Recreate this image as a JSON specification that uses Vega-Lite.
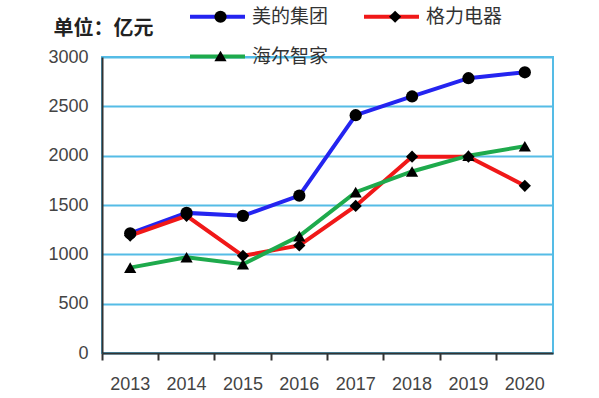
{
  "$schema": "https://vega.github.io/schema/vega-lite/v6.json",
  "autosize": {"type": "none"},
  "padding": {"left": 102, "top": 57, "right": 46, "bottom": 45},
  "width": 451,
  "height": 296,
  "background": "white",
  "config": {
    "view": {"stroke": "#55BCE6", "strokeWidth": 2},
    "font": "Liberation Sans"
  },
  "data": {
    "values": [
      {"year": "2013", "company": "美的集团", "value": 1213},
      {"year": "2014", "company": "美的集团", "value": 1420},
      {"year": "2015", "company": "美的集团", "value": 1390},
      {"year": "2016", "company": "美的集团", "value": 1595},
      {"year": "2017", "company": "美的集团", "value": 2410},
      {"year": "2018", "company": "美的集团", "value": 2600},
      {"year": "2019", "company": "美的集团", "value": 2785},
      {"year": "2020", "company": "美的集团", "value": 2845},
      {"year": "2013", "company": "格力电器", "value": 1190},
      {"year": "2014", "company": "格力电器", "value": 1390},
      {"year": "2015", "company": "格力电器", "value": 985},
      {"year": "2016", "company": "格力电器", "value": 1090},
      {"year": "2017", "company": "格力电器", "value": 1490},
      {"year": "2018", "company": "格力电器", "value": 1990},
      {"year": "2019", "company": "格力电器", "value": 1990},
      {"year": "2020", "company": "格力电器", "value": 1695},
      {"year": "2013", "company": "海尔智家", "value": 865},
      {"year": "2014", "company": "海尔智家", "value": 970},
      {"year": "2015", "company": "海尔智家", "value": 900},
      {"year": "2016", "company": "海尔智家", "value": 1185},
      {"year": "2017", "company": "海尔智家", "value": 1630},
      {"year": "2018", "company": "海尔智家", "value": 1840},
      {"year": "2019", "company": "海尔智家", "value": 2000},
      {"year": "2020", "company": "海尔智家", "value": 2095}
    ]
  },
  "encoding": {
    "x": {
      "field": "year", "type": "ordinal",
      "scale": {"type": "band", "paddingInner": 0, "paddingOuter": 0},
      "axis": {
        "title": null, "labelAngle": 0, "bandPosition": 0,
        "domainColor": "#333333", "domainWidth": 2,
        "tickColor": "#333333", "tickWidth": 2, "tickSize": 7,
        "labelFontSize": 18, "labelColor": "#444444", "labelPadding": 15,
        "grid": false
      }
    },
    "y": {
      "field": "value", "type": "quantitative",
      "scale": {"domain": [0, 3000]},
      "axis": {
        "values": [0, 500, 1000, 1500, 2000, 2500, 3000],
        "format": "d",
        "title": "单位：亿元",
        "titleFont": "Noto Sans CJK SC", "titleFontSize": 20, "titleFontWeight": "bold",
        "titleColor": "#222222", "titleAngle": 0, "titleAlign": "left", "titleBaseline": "middle",
        "titleX": -49, "titleY": -29,
        "domainColor": "#333333", "domainWidth": 2,
        "ticks": false, "labelPadding": 14,
        "labelFontSize": 18, "labelColor": "#444444",
        "grid": true, "gridColor": "#55BCE6", "gridWidth": 2
      }
    }
  },
  "layer": [
    {
      "mark": {"type": "line", "strokeWidth": 4},
      "encoding": {
        "color": {
          "field": "company", "type": "nominal",
          "scale": {"domain": ["美的集团", "格力电器", "海尔智家"], "range": ["#2424F0", "#F01818", "#1EAA4C"]},
          "legend": {
            "title": null, "orient": "none", "legendX": 86, "legendY": -70,
            "direction": "horizontal", "columns": 2, "padding": 0,
            "symbolType": "stroke", "symbolSize": 3025, "symbolStrokeWidth": 4,
            "labelFont": "Noto Sans CJK SC", "labelFontSize": 19, "labelColor": "#333333",
            "labelOffset": 5, "columnPadding": 27, "rowPadding": -30.5
          }
        }
      }
    },
    {
      "mark": {"type": "point", "filled": true, "color": "black", "opacity": 1, "size": 150},
      "encoding": {
        "shape": {
          "field": "company", "type": "nominal",
          "sort": ["美的集团", "格力电器", "海尔智家"],
          "scale": {"range": ["circle", "diamond", "triangle-up"]},
          "legend": {
            "title": null, "orient": "none", "legendX": 109, "legendY": -50,
            "direction": "horizontal", "columns": 2, "padding": 0,
            "symbolSize": 150, "symbolFillColor": "black", "symbolStrokeWidth": 0, "symbolOpacity": 1,
            "labelFont": "Noto Sans CJK SC", "labelFontSize": 19, "labelOpacity": 0,
            "labelOffset": 5, "columnPadding": 73.6, "rowPadding": 19.5
          }
        }
      }
    }
  ],
  "resolve": {"legend": {"color": "independent", "shape": "independent"}}
}
